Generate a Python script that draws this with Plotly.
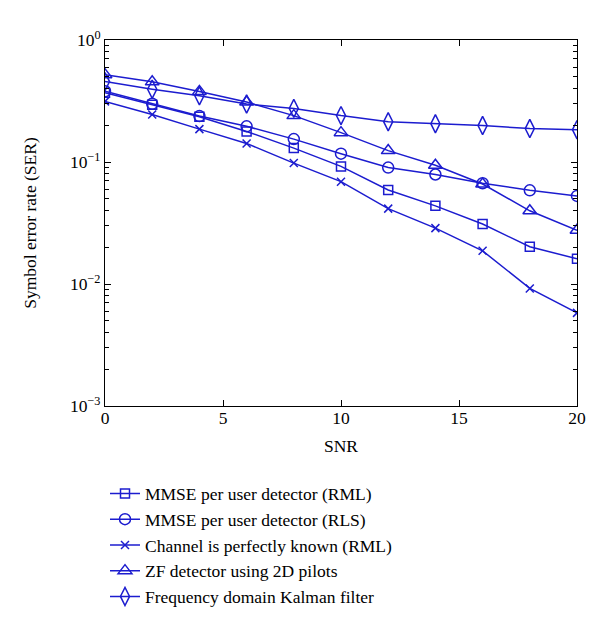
import plotly.graph_objects as go

snr = [0, 2, 4, 6, 8, 10, 12, 14, 16, 18, 20]
mmse_rml = [0.37, 0.295, 0.235, 0.178, 0.130, 0.092, 0.059, 0.0437, 0.031, 0.0202, 0.0161]
mmse_rls = [0.38, 0.30, 0.238, 0.196, 0.154, 0.117, 0.090, 0.079, 0.067, 0.0586, 0.0527]
perfect = [0.314, 0.245, 0.186, 0.142, 0.098, 0.069, 0.0415, 0.0287, 0.0187, 0.0092, 0.0058]
zf_2d = [0.52, 0.454, 0.379, 0.31, 0.24, 0.174, 0.124, 0.094, 0.066, 0.0398, 0.0276]
kalman = [0.456, 0.395, 0.349, 0.299, 0.275, 0.24, 0.214, 0.206, 0.199, 0.188, 0.184]

names = [
    "MMSE per user detector (RML)",
    "MMSE per user detector (RLS)",
    "Channel is perfectly known (RML)",
    "ZF detector using 2D pilots",
    "Frequency domain Kalman filter",
]
series = [mmse_rml, mmse_rls, perfect, zf_2d, kalman]
symbols = ["square-open", "circle-open", "x-thin-open", "triangle-up-open", "diamond-tall-open"]
sizes = [9, 11, 8, 12, 13]

xticks = [0, 5, 10, 15, 20]
yticks = [1, 0.1, 0.01, 0.001]
ytext = ["10<sup>0</sup>", "10<sup>−1</sup>", "10<sup>−2</sup>", "10<sup>−3</sup>"]
yminor = [m * d for d in [0.001, 0.01, 0.1] for m in range(2, 10)]

color = "#1c1ccf"
font = "Liberation Serif, Times New Roman, serif"

fig = go.Figure()
for name, vals, sym, sz in zip(names, series, symbols, sizes):
    fig.add_trace(go.Scatter(
        x=snr, y=vals, name=name, mode="lines+markers",
        line=dict(color=color, width=1.5),
        marker=dict(symbol=sym, size=sz, color=color, line=dict(color=color, width=1.5)),
    ))

fig.update_layout(
    width=600, height=619,
    margin=dict(l=97, r=31, t=32, b=217),
    paper_bgcolor="white", plot_bgcolor="white",
    font=dict(family=font, size=17, color="black"),
    showlegend=True,
    legend=dict(
        x=0.0, y=-0.19, xanchor="left", yanchor="top",
        font=dict(family=font, size=17.5, color="black"),
        tracegroupgap=0, itemwidth=30,
        bgcolor="rgba(0,0,0,0)",
    ),
)
fig.update_xaxes(
    range=[0, 20], tickvals=xticks, automargin=False,
    showline=True, linecolor="black", linewidth=1, mirror="ticks",
    ticks="inside", ticklen=6, tickcolor="black",
    showgrid=False, zeroline=False,
    ticklabelstandoff=-4,
    title=dict(text="SNR", standoff=12, font=dict(size=17.5)),
    tickfont=dict(size=17.5),
)
fig.update_yaxes(
    type="log", range=[-3, 0], tickvals=yticks, ticktext=ytext, automargin=False,
    showline=True, linecolor="black", linewidth=1, mirror="ticks",
    ticks="inside", ticklen=6, tickcolor="black",
    minor=dict(tickvals=yminor, ticks="inside", ticklen=4, tickcolor="black", showgrid=False),
    showgrid=False, zeroline=False,
    title=dict(text="Symbol error rate (SER)", standoff=28, font=dict(size=17.5)),
    tickfont=dict(size=17.5),
)

fig.write_html("out.html")
